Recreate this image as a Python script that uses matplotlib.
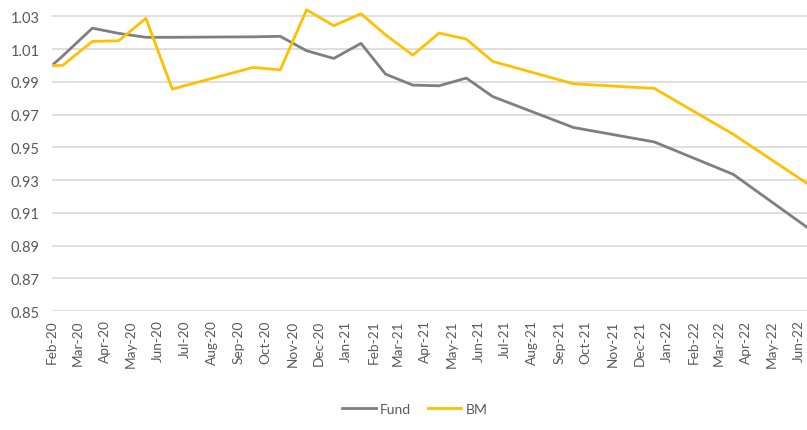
import matplotlib
matplotlib.use("Agg")
import matplotlib.pyplot as plt
import matplotlib.dates as mdates
import pandas as pd

plt.rcParams['font.family'] = ['Lato', 'DejaVu Sans']

# month-end observations (first point is the mid-Feb start)
dates = ["2020-02-14", "2020-02-26", "2020-03-31", "2020-04-30", "2020-05-31",
         "2020-06-30", "2020-09-30", "2020-10-31", "2020-11-30", "2020-12-31",
         "2021-01-31", "2021-02-28", "2021-03-31", "2021-04-30", "2021-05-31",
         "2021-06-30", "2021-09-30", "2021-12-31", "2022-03-31", "2022-06-30"]
fund = [1.000, 1.0057, 1.0228, 1.0196, 1.0172, 1.0172, 1.0175, 1.0178, 1.009, 1.0043,
        1.0135, 0.9947, 0.988, 0.9876, 0.9923, 0.981, 0.9621, 0.9533, 0.9335, 0.8985]
bm = [1.000, 1.000, 1.0147, 1.0151, 1.0288, 0.9856, 0.9988, 0.9973, 1.034, 1.0243,
      1.0316, 1.0187, 1.0063, 1.0198, 1.0161, 1.0025, 0.9888, 0.986, 0.958, 0.9255]
yticks = [0.85, 0.87, 0.89, 0.91, 0.93, 0.95, 0.97, 0.99, 1.01, 1.03]

x = pd.to_datetime(dates)
txt = "#595959"

fig = plt.figure(figsize=(8.07, 4.31), dpi=100)
ax = fig.add_axes([0.0644, 0.276, 1 - 0.0644, 0.724])

ax.plot(x, fund, color="#7F7F7F", lw=2.0, label="Fund", solid_joinstyle="round")
ax.plot(x, bm, color="#FFC000", lw=2.0, label="BM", solid_joinstyle="round")

ax.set_ylim(0.85, 1.0406)
ax.set_yticks(yticks)
ax.set_yticklabels([f"{v:.2f}" for v in yticks])
ax.set_xlim(pd.Timestamp("2020-02-14"), pd.Timestamp("2022-06-23"))
ax.xaxis.set_major_locator(mdates.MonthLocator(bymonthday=14))
ax.xaxis.set_major_formatter(mdates.DateFormatter("%b-%y"))

ax.grid(axis="y", color="#D9D9D9", lw=1.2)
ax.set_axisbelow(True)
for s in ax.spines.values():
    s.set_visible(False)
ax.tick_params(axis="both", length=0, colors=txt)
ax.tick_params(axis="y", labelsize=10.5, pad=9)
ax.tick_params(axis="x", labelsize=9.8, pad=6, labelrotation=90)

fig.legend(loc="center", bbox_to_anchor=(0.514, 0.049), ncol=2, frameon=False,
           fontsize=10, labelcolor=txt, handlelength=2.4, columnspacing=1.2,
           handletextpad=0.3)

fig.savefig("out.png", dpi=100)
